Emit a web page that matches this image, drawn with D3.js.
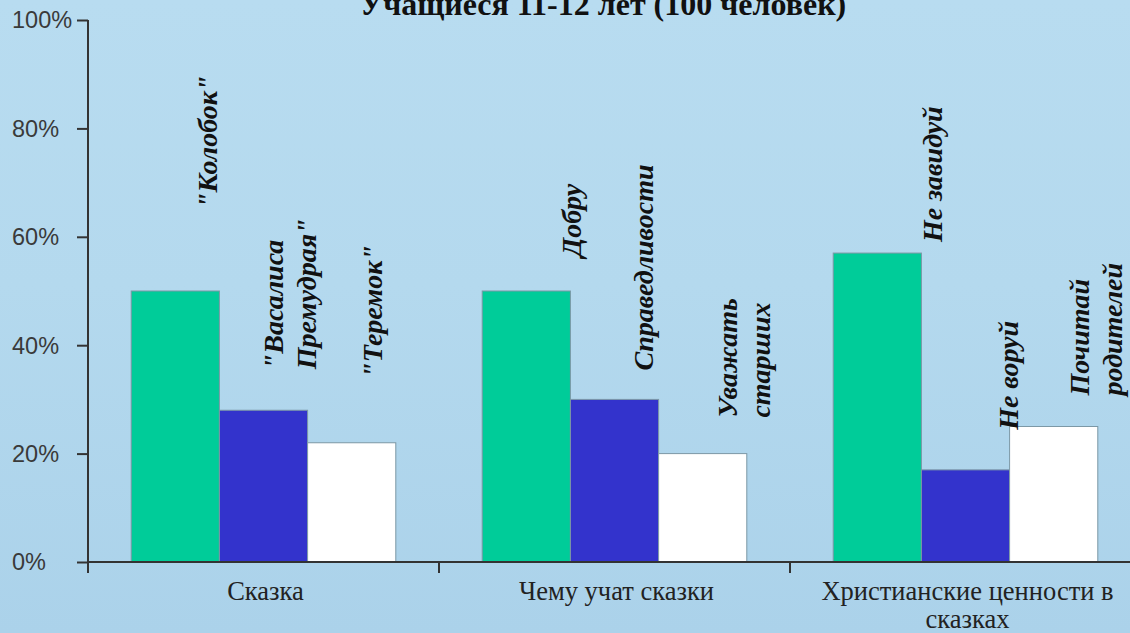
<!DOCTYPE html>
<html><head><meta charset="utf-8">
<script src="https://cdn.jsdelivr.net/npm/d3@7"></script>
<style>
html,body{margin:0;padding:0;overflow:hidden;background:#b3d8ed;}
svg{display:block;}
</style></head>
<body>
<svg id="chart" width="1130" height="633"></svg>
<script>
// ---- data ----
const categories = [["Сказка"], ["Чему учат сказки"], ["Христианские ценности в", "сказках"]];
const seriesGreen = [50, 50, 57];
const seriesBlue  = [28, 30, 17];
const seriesWhite = [22, 20, 25];
const barLabels = [
  [["\"Колобок\""], ["\"Васалиса", "Премудрая\""], ["\"Теремок\""]],
  [["Добру"], ["Справедливости"], ["Уважать", "старших"]],
  [["Не завидуй"], ["Не воруй"], ["Почитай", "родителей"]]
];
const yTicks = [0, 20, 40, 60, 80, 100];
const title = "Учащиеся 11-12 лет (100 человек)";

// ---- layout (label placement tweaks, in px) ----
const labelDX = [[32, 26, 20], [45, 29, 41], [55, 43, 42]];
const labelLift = [[83, 41, 65], [34, 29, 36], [11, 40, 31]];

const W = 1130, H = 633;
const svg = d3.select("#chart");
const defs = svg.append("defs");
const bg = defs.append("linearGradient").attr("id","bg").attr("x1",0).attr("y1",0).attr("x2",0).attr("y2",1);
bg.append("stop").attr("offset","0%").attr("stop-color","#b8dcf0");
bg.append("stop").attr("offset","45%").attr("stop-color","#b4d9ee");
bg.append("stop").attr("offset","100%").attr("stop-color","#abd2ea");
svg.append("rect").attr("width",W).attr("height",H).attr("fill","url(#bg)");

const x0 = 88, yTop = 20, yBottom = 562;
const y = d3.scaleLinear().domain([0,100]).range([yBottom, yTop]);
const x = d3.scaleBand().domain(d3.range(categories.length)).range([x0, x0 + 3*351]).paddingInner(0).paddingOuter(0);
const seriesKeys = ["g","b","w"];
const xs = d3.scaleBand().domain(seriesKeys).range([0, x.bandwidth()]).paddingOuter(0.49).paddingInner(0);
const colors = {g:"#00cc99", b:"#3333cc", w:"#ffffff"};
const seriesData = {g: seriesGreen, b: seriesBlue, w: seriesWhite};

// title
svg.append("text").attr("x", 603).attr("y", 15).attr("text-anchor","middle")
  .attr("font-family","Liberation Serif, Times New Roman, serif").attr("font-weight","bold")
  .attr("font-size", 32).attr("fill","#111").text(title);

// bars
const groups = svg.selectAll("g.cat").data(categories).join("g").attr("class","cat")
  .attr("transform", (d,i) => `translate(${x(i)},0)`);
groups.each(function(d, i){
  const g = d3.select(this);
  seriesKeys.forEach((k) => {
    const v = seriesData[k][i];
    g.append("rect").attr("x", xs(k)).attr("y", y(v)).attr("width", xs.bandwidth())
      .attr("height", y(0) - y(v)).attr("fill", colors[k])
      .attr("stroke","#7c98a6").attr("stroke-width",1);
  });
});

// axes
const yAxis = d3.axisLeft(y).tickValues(yTicks).tickSize(11).tickFormat("");
const ya = svg.append("g").attr("transform",`translate(${x0},0)`).call(yAxis);
ya.select(".domain").remove();
ya.selectAll(".tick line").attr("stroke","#333").attr("stroke-width",2);
svg.append("line").attr("x1",x0).attr("x2",x0).attr("y1",yTop).attr("y2",yBottom+10).attr("stroke","#333").attr("stroke-width",2);
svg.selectAll("text.ytick").data(yTicks).join("text").attr("class","ytick")
  .attr("x", 12).attr("y", d => y(d)).attr("dy","0.36em")
  .attr("font-family","Liberation Sans, Arial, sans-serif").attr("font-size",23.5).attr("fill","#3a3a3a")
  .text(d => d + "%");

svg.append("line").attr("x1",x0).attr("x2",W).attr("y1",yBottom).attr("y2",yBottom).attr("stroke","#333").attr("stroke-width",2);
const xTicks = d3.range(categories.length + 1).map(i => x0 + i * x.step());
svg.selectAll("line.xt").data(xTicks).join("line").attr("class","xt")
  .attr("x1", d => d).attr("x2", d => d).attr("y1", yBottom).attr("y2", yBottom + 11)
  .attr("stroke","#333").attr("stroke-width",2);

// category labels
categories.forEach((lines, i) => {
  const cx = x(i) + x.bandwidth()/2 + 2;
  const t = svg.append("text").attr("x", cx).attr("y", 600)
    .attr("text-anchor","middle").attr("font-family","Liberation Serif, Times New Roman, serif")
    .attr("font-size",26.5).attr("fill","#222");
  lines.forEach((l, k) => t.append("tspan").attr("x", cx).attr("dy", k ? 28 : 0).text(l));
});

// bar labels (rotated)
barLabels.forEach((grp, i) => {
  grp.forEach((lines, j) => {
    const k = seriesKeys[j];
    const v = seriesData[k][i];
    const cx = x(i) + xs(k) + xs.bandwidth()/2 + labelDX[i][j];
    const by = y(v) - labelLift[i][j];
    const lh = 1.2;
    const t = svg.append("text").attr("transform", `translate(${cx},${by}) rotate(-90)`)
      .attr("font-family","Liberation Serif, Times New Roman, serif").attr("font-weight","bold")
      .attr("font-style","italic").attr("font-size",28).attr("fill","#111");
    lines.forEach((l, n) => t.append("tspan").attr("x", 0)
      .attr("dy", (n === 0 ? (0.35 - (lines.length - 1) * lh / 2) : lh) + "em").text(l));
  });
});
</script>
</body></html>
